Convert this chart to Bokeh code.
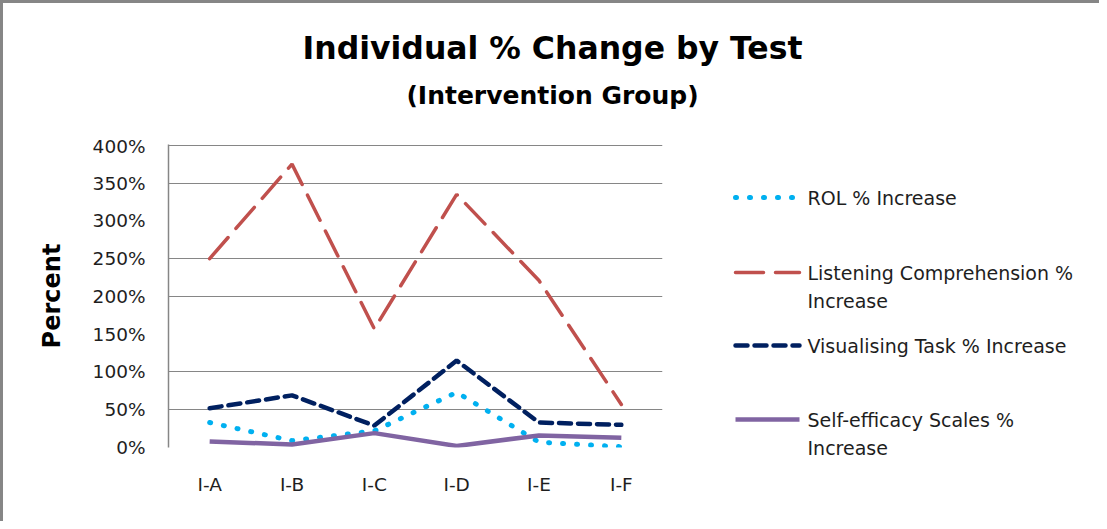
from bokeh.plotting import figure
from bokeh.layouts import column, row
from bokeh.models import FactorRange, Range1d, FixedTicker, NumeralTickFormatter
from bokeh.core.properties import value
from bokeh.embed import file_html
from bokeh.resources import INLINE

# ---------------- data ----------------
categories = ["I-A", "I-B", "I-C", "I-D", "I-E", "I-F"]
rol_increase = [0.33, 0.09, 0.22, 0.73, 0.07, 0.01]
listening_increase = [2.50, 3.75, 1.57, 3.35, 2.21, 0.57]
visualising_increase = [0.52, 0.69, 0.29, 1.15, 0.33, 0.30]
self_efficacy_increase = [0.08, 0.04, 0.19, 0.02, 0.16, 0.13]

y_ticks = [0, 0.5, 1.0, 1.5, 2.0, 2.5, 3.0, 3.5, 4.0]
grid_ticks = [0.5, 1.0, 2.0, 2.5, 3.5, 4.0]

title_text = "Individual % Change by Test"
subtitle_text = "(Intervention Group)"
y_label = "Percent"
legend_lines = [["ROL % Increase"],
                ["Listening Comprehension %", "Increase"],
                ["Visualising Task % Increase"],
                ["Self-efficacy Scales %", "Increase"]]

# ---------------- styles ----------------
FONT = "DejaVu Sans"
GRID = "#868686"
TXT = "#1e1e1e"
styles = [
    dict(line_color="#00B0F0", line_width=5, line_dash="1 13", line_cap="round"),
    dict(line_color="#C0504D", line_width=3.5, line_dash="28 12", line_cap="round"),
    dict(line_color="#002060", line_width=4.5, line_dash="12 7", line_cap="round"),
    dict(line_color="#8064A2", line_width=4.5),
]
series = [rol_increase, listening_increase, visualising_increase, self_efficacy_increase]


def blank(fig):
    fig.outline_line_color = None
    fig.grid.visible = False
    fig.background_fill_color = "white"
    fig.border_fill_color = "white"
    fig.frame_align = False
    return fig


TOTAL_W, TOTAL_H = 1096, 518
TITLE_H = 132
MAIN_W = 679
MAIN_H = TOTAL_H - TITLE_H
LEG_W = TOTAL_W - MAIN_W
B_TOP, B_BOTTOM = 9, 74

# ---------------- title strip ----------------
t = blank(figure(width=TOTAL_W, height=TITLE_H, x_range=Range1d(0, TOTAL_W),
                 y_range=Range1d(0, TITLE_H), x_axis_type=None, y_axis_type=None,
                 output_backend="svg", toolbar_location=None, min_border=0))
t.text(x=[549], y=[88], text=[title_text], text_font=value(FONT), text_font_size="31.5px",
       text_font_style="bold", text_color="black", text_align="center",
       text_baseline="middle")
t.text(x=[549], y=[40], text=[subtitle_text], text_font=value(FONT), text_font_size="25px",
       text_font_style="bold", text_color="black", text_align="center",
       text_baseline="middle")

# ---------------- main chart ----------------
p = figure(x_range=FactorRange(*categories), y_range=Range1d(0, 4.01),
           width=MAIN_W, height=MAIN_H, output_backend="svg", toolbar_location=None,
           min_border_left=165, min_border_right=20, min_border_top=B_TOP,
           min_border_bottom=B_BOTTOM)
p.outline_line_color = None
p.background_fill_color = "white"
p.border_fill_color = "white"

p.yaxis.ticker = FixedTicker(ticks=y_ticks)
p.yaxis.formatter = NumeralTickFormatter(format="0%")
p.yaxis.major_tick_line_color = None
p.yaxis.minor_tick_line_color = None
p.yaxis.major_tick_out = 0
p.yaxis.major_tick_in = 0
p.yaxis.axis_line_color = GRID
p.yaxis.axis_line_width = 1.5
p.yaxis.major_label_standoff = 23
p.yaxis.major_label_text_font = FONT
p.yaxis.major_label_text_font_size = "18.5px"
p.yaxis.major_label_text_color = TXT
p.yaxis.axis_label = y_label
p.yaxis.axis_label_text_font = FONT
p.yaxis.axis_label_text_font_style = "bold"
p.yaxis.axis_label_text_font_size = "24px"
p.yaxis.axis_label_text_color = "black"
p.yaxis.axis_label_standoff = 24

p.xaxis.axis_line_color = None
p.xaxis.major_tick_line_color = None
p.xaxis.minor_tick_line_color = None
p.xaxis.major_tick_out = 0
p.xaxis.major_label_standoff = 26
p.xaxis.major_label_text_font = FONT
p.xaxis.major_label_text_font_size = "18.5px"
p.xaxis.major_label_text_color = TXT

p.xgrid.grid_line_color = None
p.ygrid.ticker = FixedTicker(ticks=grid_ticks)
p.ygrid.grid_line_color = GRID
p.ygrid.grid_line_width = 1.2

for vals, st in zip(series, styles):
    p.line(categories, vals, **st)

# ---------------- legend panel (own full-height frame) ----------------
lg = blank(figure(width=LEG_W, height=MAIN_H, x_range=Range1d(0, LEG_W),
                  y_range=Range1d(0, MAIN_H), x_axis_type=None, y_axis_type=None,
                  output_backend="svg", toolbar_location=None, min_border=0))
entry_y = [324, 249, 176, 102]
line_step = 28
for yy, st, lines in zip(entry_y, styles, legend_lines):
    lg.line([53, 117], [yy, yy], **st)
    lg.text(x=[125] * len(lines), y=[yy - i * line_step for i in range(len(lines))],
            text=lines, text_font=value(FONT), text_font_size="19px",
            text_color=TXT, text_align="left", text_baseline="middle")

layout = column(t, row(p, lg, spacing=0), spacing=0)
layout.styles = {"border-top": "3px solid #868686", "border-left": "3px solid #868686"}

open("out.html", "w").write(file_html(layout, INLINE))
